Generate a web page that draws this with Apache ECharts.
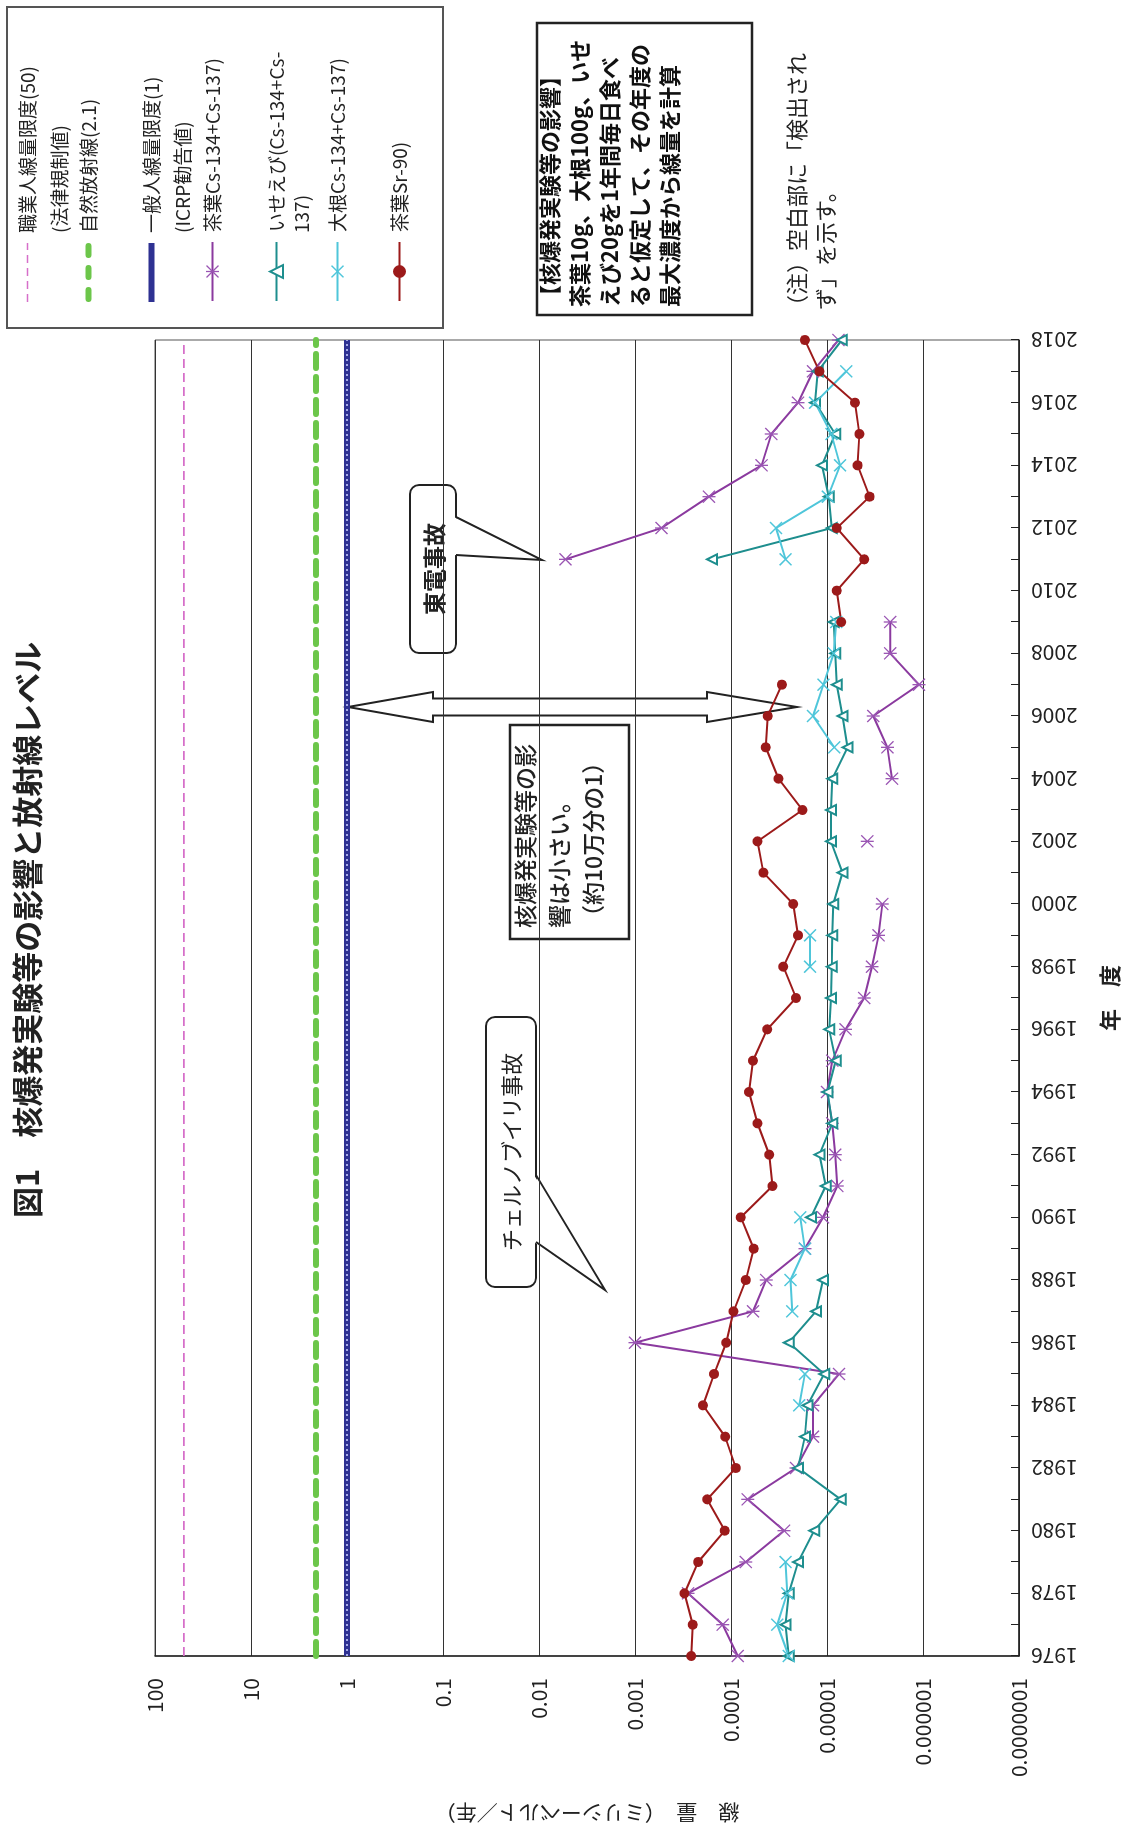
<!DOCTYPE html>
<html>
<head>
<meta charset="utf-8">
<script src="https://cdn.jsdelivr.net/npm/echarts@6/dist/echarts.min.js"></script>
<style>
html, body { margin: 0; padding: 0; background: #fff; }
#page { position: relative; width: 1128px; height: 1834px; overflow: hidden; }
/* chart is laid out landscape and turned a quarter turn left, like the scan */
#chart { position: absolute; left: 0; top: 0; width: 1834px; height: 1128px;
         transform-origin: 0 0; transform: translateY(1834px) rotate(-90deg); }
</style>
</head>
<body>
<div id="page"><div id="chart"></div></div>
<script>
var years = [1976, 1977, 1978, 1979, 1980, 1981, 1982, 1983, 1984, 1985,
             1986, 1987, 1988, 1989, 1990, 1991, 1992, 1993, 1994, 1995,
             1996, 1997, 1998, 1999, 2000, 2001, 2002, 2003, 2004, 2005,
             2006, 2007, 2008, 2009, 2010, 2011, 2012, 2013, 2014, 2015,
             2016, 2017, 2018];

// 茶葉 Cs-134+Cs-137
var teaCs = [8.5e-5, 1.22e-4, 2.8e-4, 7.0e-5, 2.8e-5, 6.7e-5, 2.1e-5, 1.4e-5, 1.4e-5, 7.5e-6,
             1.0e-3, 5.9e-5, 4.3e-5, 1.7e-5, 1.1e-5, 7.8e-6, 8.2e-6, 8.8e-6, 1.0e-5, 8.8e-6,
             6.4e-6, 4.1e-6, 3.4e-6, 2.9e-6, 2.65e-6, null, 3.8e-6, null, 2.1e-6, 2.35e-6,
             3.3e-6, 1.1e-6, 2.2e-6, 2.2e-6, null, 5.3e-3, 5.3e-4, 1.7e-4, 4.8e-5, 3.8e-5,
             2.0e-5, 1.4e-5, 7.6e-6];

// いせえび Cs-134+Cs-137
var iseebi = [2.5e-5, 2.7e-5, 2.5e-5, 2.0e-5, 1.36e-5, 7.2e-6, 2.0e-5, 1.7e-5, 1.6e-5, 1.07e-5,
              2.5e-5, 1.3e-5, 1.1e-5, null, 1.47e-5, 1.03e-5, 1.2e-5, 8.8e-6, 9.9e-6, 8.1e-6,
              9.5e-6, 9.1e-6, 8.9e-6, 8.8e-6, 8.6e-6, 6.9e-6, 9.1e-6, 9.1e-6, 8.8e-6, 6.1e-6,
              6.9e-6, 7.9e-6, 8.2e-6, 8.5e-6, null, 1.58e-4, 8.9e-6, 9.6e-6, 1.13e-5, 8.2e-6,
              1.33e-5, 1.25e-5, 7.0e-6];

// 大根 Cs-134+Cs-137
var daikon = [2.5e-5, 3.3e-5, 2.6e-5, 2.7e-5, null, null, null, null, 1.95e-5, 1.7e-5,
              null, 2.3e-5, 2.4e-5, 1.7e-5, 1.9e-5, null, null, null, null, null,
              null, null, 1.5e-5, 1.5e-5, null, null, null, null, null, 8.4e-6,
              1.4e-5, 1.09e-5, 8.5e-6, 8.0e-6, null, 2.7e-5, 3.4e-5, 9.8e-6, 7.3e-6, 9.0e-6,
              1.33e-5, 6.3e-6, null];

// 茶葉 Sr-90
var teaSr = [2.6e-4, 2.5e-4, 3.05e-4, 2.2e-4, 1.16e-4, 1.77e-4, 8.9e-5, 1.15e-4, 1.96e-4, 1.5e-4,
             1.12e-4, 9.4e-5, 7.0e-5, 5.8e-5, 7.9e-5, 3.7e-5, 4.0e-5, 5.3e-5, 6.5e-5, 5.9e-5,
             4.2e-5, 2.1e-5, 2.85e-5, 2.0e-5, 2.25e-5, 4.6e-5, 5.3e-5, 1.8e-5, 3.2e-5, 4.35e-5,
             4.15e-5, 2.95e-5, null, 7.1e-6, 7.9e-6, 4.1e-6, 7.9e-6, 3.6e-6, 4.8e-6, 4.6e-6,
             5.1e-6, 1.2e-5, 1.7e-5];

// reference levels (mSv/year)
var workerLimit = 50;
var naturalLevel = 2.1;
var publicLimit = 1;

var doseLabels = ['0.0000001', '0.000001', '0.00001', '0.0001', '0.001',
                  '0.01', '0.1', '1', '10', '100'];

var FONT = '"Noto Sans CJK JP", "Noto Sans", sans-serif';

var asterisk = 'path://M9,0L11,0L11,20L9,20Z M1.4,0L20,18.6L18.6,20L0,1.4Z M18.6,0L20,1.4L1.4,20L0,18.6Z';
var cross = 'path://M1.6,0L20,18.4L18.4,20L0,1.6Z M18.4,0L20,1.6L1.6,20L0,18.4Z';

// legend swatches for the level lines, drawn in a 59x16 box (corner specks keep the box size)
var box = 'M0,0h0.01v0.01h-0.01Z M58.99,15.99h0.01v0.01h-0.01Z ';
var iconWorker = 'path://' + box + 'M0,7.2h8v1.6h-8Z M13,7.2h8v1.6h-8Z M26,7.2h8v1.6h-8Z M39,7.2h8v1.6h-8Z M52,7.2h7v1.6h-7Z';
var iconNatural = 'path://' + box + 'M3,5h9a3,3 0 0 1 0,6h-9a3,3 0 0 1 0,-6Z M25,5h9a3,3 0 0 1 0,6h-9a3,3 0 0 1 0,-6Z M47,5h9a3,3 0 0 1 0,6h-9a3,3 0 0 1 0,-6Z';
var iconPublic = 'path://' + box + 'M0,5h59v6h-59Z';

function pairs(values) {
    return years.map(function(y, i) { return [y, values[i]]; });
}
function flat(v) {
    return [[years[0], v], [years[years.length - 1], v]];
}

var legendRows = [
    { name: '職業人線量限度(50)', y: 28, sub: '(法律規制値)', subY: 60, icon: iconWorker },
    { name: '自然放射線(2.1)', y: 89, icon: iconNatural },
    { name: '一般人線量限度(1)', y: 152, sub: '(ICRP勧告値)', subY: 183, icon: iconPublic },
    { name: '茶葉Cs-134+Cs-137)', y: 213 },
    { name: 'いせえび(Cs-134+Cs-', y: 277, sub: '137)', subY: 302 },
    { name: '大根Cs-134+Cs-137)', y: 338 },
    { name: '茶葉Sr-90)', y: 400 }
];

var graphics = [
    // legend frame
    { type: 'rect', shape: { x: 1506, y: 7, width: 321, height: 436 },
      style: { fill: 'none', stroke: '#555', lineWidth: 2 } },
    // note box
    { type: 'rect', shape: { x: 1519, y: 537, width: 292, height: 215 },
      style: { fill: '#fff', stroke: '#222', lineWidth: 2.5 } },
    // 東電事故 callout
    { type: 'rect', shape: { x: 1181, y: 410, width: 168, height: 46, r: 9 },
      style: { fill: '#fff', stroke: '#222', lineWidth: 2 } },
    { type: 'polygon', shape: { points: [[1317, 454], [1274, 542], [1279, 454]] },
      style: { fill: '#fff', stroke: 'none' } },
    { type: 'polyline', shape: { points: [[1317, 456], [1274, 542], [1279, 456]] },
      style: { fill: 'none', stroke: '#222', lineWidth: 2 } },
    { type: 'text', x: 1265, y: 434,
      style: { text: '東電事故', font: 'bold 23px ' + FONT, fill: '#222', align: 'center', verticalAlign: 'middle' } },
    // チェルノブイリ事故 callout
    { type: 'rect', shape: { x: 547, y: 486, width: 270, height: 50, r: 9 },
      style: { fill: '#fff', stroke: '#222', lineWidth: 2 } },
    { type: 'polygon', shape: { points: [[659, 534], [544, 605], [592, 534]] },
      style: { fill: '#fff', stroke: 'none' } },
    { type: 'polyline', shape: { points: [[659, 536], [544, 605], [592, 536]] },
      style: { fill: 'none', stroke: '#222', lineWidth: 2 } },
    { type: 'text', x: 682, y: 512,
      style: { text: 'チェルノブイリ事故', font: '22px ' + FONT, fill: '#222', align: 'center', verticalAlign: 'middle' } },
    // double arrow
    { type: 'polygon',
      shape: { points: [[1127, 348], [1142, 433], [1135.5, 433], [1135.5, 707], [1142, 707], [1127, 797],
                        [1112, 707], [1118.5, 707], [1118.5, 433], [1112, 433]] },
      style: { fill: '#fff', stroke: '#222', lineWidth: 2 } },
    // small effect box
    { type: 'rect', shape: { x: 895, y: 510, width: 214, height: 119 },
      style: { fill: '#fff', stroke: '#222', lineWidth: 2.5 } },
    { type: 'text', x: 906, y: 508,
      style: { text: '核爆発実験等の影\n響は小さい。\n（約10万分の1）', font: '500 23px ' + FONT,
               lineHeight: 34, fill: '#222' } },
    // note box text
    { type: 'text', x: 1527, y: 535,
      style: { text: '【核爆発実験等の影響】', font: 'bold 22px ' + FONT, lineHeight: 30, fill: '#111' } },
    { type: 'text', x: 1527, y: 565,
      style: { text: '茶葉10g、大根100g、いせ\nえび20gを1年間毎日食べ\nると仮定して、その年度の\n最大濃度から線量を計算',
               font: 'bold 22px ' + FONT, lineHeight: 30, fill: '#111' } },
    { type: 'text', x: 1517, y: 797,
      style: { text: '（注）空白部に「検出され', font: '22px ' + FONT, fill: '#222', verticalAlign: 'middle' } },
    { type: 'text', x: 1524, y: 826,
      style: { text: 'ず」を示す。', font: '22px ' + FONT, fill: '#222', verticalAlign: 'middle' } }
];

legendRows.forEach(function(r) {
    if (r.sub) {
        graphics.push({ type: 'text', x: 1601, y: r.subY,
            style: { text: r.sub, font: '19px ' + FONT, fill: '#222', verticalAlign: 'middle' } });
    }
});

var option = {
    animation: false,
    backgroundColor: '#fff',
    title: {
        text: '図1　核爆発実験等の影響と放射線レベル',
        left: 611, top: 7,
        textStyle: { fontSize: 31, fontWeight: 'bold', color: '#222', fontFamily: FONT }
    },
    legend: legendRows.map(function(r) {
        var item = r.icon ? { name: r.name, icon: r.icon } : { name: r.name };
        return {
            data: [item], left: 1532, top: r.y - 10, orient: 'vertical',
            itemWidth: 59, itemHeight: 16, padding: 0, selectedMode: false,
            textStyle: { fontSize: 19, color: '#222', fontFamily: FONT, padding: [0, 0, 0, 5] }
        };
    }),
    grid: { left: 178, right: 340, top: 155, bottom: 109, show: true,
            borderColor: '#555', borderWidth: 1, backgroundColor: '#fff' },
    xAxis: {
        type: 'value', min: 1976, max: 2018, interval: 1,
        name: '年　度', nameLocation: 'middle', nameGap: 80,
        nameTextStyle: { fontSize: 22, fontWeight: 'bold', color: '#222', fontFamily: FONT },
        axisLine: { lineStyle: { color: '#222', width: 1.5 } },
        axisTick: { inside: true, length: 8, lineStyle: { color: '#222' } },
        axisLabel: {
            rotate: 90, margin: 12, fontSize: 21, color: '#222', fontFamily: FONT,
            formatter: function(v) { return v % 2 === 0 ? String(v) : ''; }
        },
        splitLine: { show: false }
    },
    yAxis: {
        type: 'log', logBase: 10, min: 1e-7, max: 100, splitNumber: 9,
        name: '線　量　（ミリシーベルト／年）', nameLocation: 'middle', nameGap: 146,
        nameTextStyle: { fontSize: 21, color: '#222', fontFamily: FONT },
        axisLine: { show: true, lineStyle: { color: '#222', width: 1.5 } },
        axisTick: { show: false },
        axisLabel: {
            margin: 22, fontSize: 21, color: '#222', fontFamily: FONT,
            formatter: function(v) { return doseLabels[Math.round(Math.log10(v)) + 7] || ''; }
        },
        splitLine: { show: true, lineStyle: { color: '#333', width: 1.2 } }
    },
    series: [
        { name: '職業人線量限度(50)', type: 'line', data: flat(workerLimit), symbol: 'none',
          itemStyle: { color: '#D66FC9' }, lineStyle: { color: '#D66FC9', width: 1.6, type: [9, 5] } },
        { name: '自然放射線(2.1)', type: 'line', data: flat(naturalLevel), symbol: 'none',
          itemStyle: { color: '#6CC64A' }, lineStyle: { color: '#6CC64A', width: 6, type: [14, 9], cap: 'round' } },
        { name: '一般人線量限度(1)', type: 'line', data: flat(publicLimit), symbol: 'none',
          itemStyle: { color: '#2E3192' }, lineStyle: { color: '#2E3192', width: 6 } },
        { name: 'publicDots', type: 'line', data: flat(publicLimit), symbol: 'none', silent: true,
          lineStyle: { color: '#a3a8e6', width: 2, type: [2, 3] } },
        { name: '茶葉Cs-134+Cs-137)', type: 'line', data: pairs(teaCs),
          symbol: asterisk, symbolSize: 13, symbolKeepAspect: true,
          itemStyle: { color: '#9A55B3' }, lineStyle: { color: '#8B3A9F', width: 2 } },
        { name: 'いせえび(Cs-134+Cs-', type: 'line', data: pairs(iseebi),
          symbol: 'emptyTriangle', symbolSize: 10,
          itemStyle: { color: '#1E8E8E', borderWidth: 1.5 }, lineStyle: { color: '#1E8E8E', width: 2 } },
        { name: '大根Cs-134+Cs-137)', type: 'line', data: pairs(daikon),
          symbol: cross, symbolSize: 13, symbolKeepAspect: true,
          itemStyle: { color: '#4FC6DA' }, lineStyle: { color: '#4FC6DA', width: 2 } },
        { name: '茶葉Sr-90)', type: 'line', data: pairs(teaSr),
          symbol: 'circle', symbolSize: 10,
          itemStyle: { color: '#9C1A1A' }, lineStyle: { color: '#9C1A1A', width: 2 } }
    ],
    graphic: graphics
};

echarts.init(document.getElementById('chart')).setOption(option);
</script>
</body>
</html>
